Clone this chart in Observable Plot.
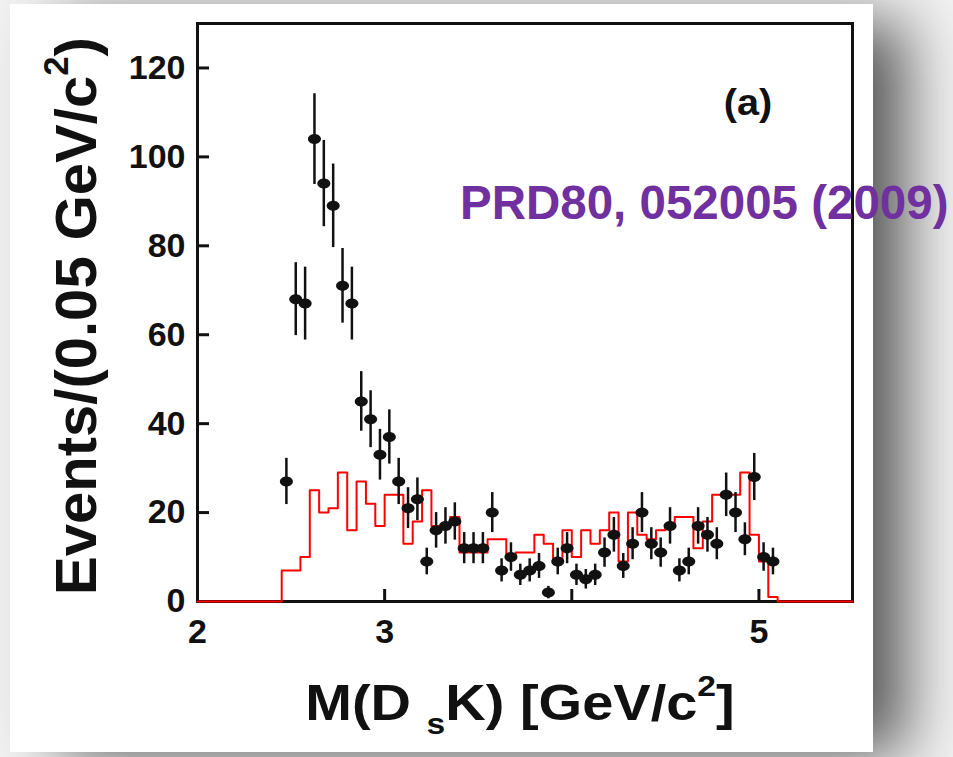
<!DOCTYPE html>
<html>
<head>
<meta charset="utf-8">
<script src="https://cdn.jsdelivr.net/npm/d3@7"></script>
<script src="https://cdn.jsdelivr.net/npm/@observablehq/plot@0.6"></script>
<style>
html, body { margin: 0; padding: 0; }
body { width: 953px; height: 757px; background: #f2f2f2; position: relative; overflow: hidden; font-family: "Liberation Sans", Arial, sans-serif; }
#card { position: absolute; left: 10px; top: 4px; width: 863px; height: 748px; background: #fff; box-shadow: 40px 10px 60px -8px rgba(0,0,0,0.65); }
#chart { position: absolute; left: 0; top: 0; }
.lbl { position: absolute; font-weight: bold; color: #111; white-space: nowrap; line-height: 1; }
#ylab { font-family: "Liberation Sans Narrow", "Liberation Sans", Arial, sans-serif; font-size: 58px; left: 72px; top: 316px; transform: translate(-50%, -50%) rotate(-90deg); }
#xlab { font-size: 50px; left: 520px; top: 705px; transform: translate(-50%, -50%) scaleX(1.12); }
#tag { font-size: 36px; left: 748px; top: 103px; transform: translate(-50%, -50%) scaleX(1.1); }
#ref { font-size: 47.5px; color: #7030a0; left: 460px; top: 203px; transform: translateY(-50%); }
.sup { font-size: 0.6em; vertical-align: 0.8em; }
.sub { font-size: 0.6em; vertical-align: -0.45em; }
</style>
</head>
<body>
<div id="card"></div>
<div id="chart"></div>
<div class="lbl" id="ylab">Events/(0.05 GeV/c<span class="sup">2</span>)</div>
<div class="lbl" id="xlab">M(D <span class="sub">s</span>K) [GeV/c<span class="sup">2</span>]</div>
<div class="lbl" id="tag">(a)</div>
<div class="lbl" id="ref">PRD80, 052005 (2009)</div>
<script>
// Data points: M(DsK) bin centres [GeV/c^2], events per 0.05 GeV/c^2, and their error bars
const dataMass = [2.475, 2.525, 2.575, 2.625, 2.675, 2.725, 2.775, 2.825, 2.875, 2.925,
  2.975, 3.025, 3.075, 3.125, 3.175, 3.225, 3.275, 3.325, 3.375, 3.425,
  3.475, 3.525, 3.575, 3.625, 3.675, 3.725, 3.775, 3.825, 3.875, 3.925,
  3.975, 4.025, 4.075, 4.125, 4.175, 4.225, 4.275, 4.325, 4.375, 4.425,
  4.475, 4.525, 4.575, 4.625, 4.675, 4.725, 4.775, 4.825, 4.875, 4.925,
  4.975, 5.025, 5.075];
const dataCounts = [27, 68, 67, 104, 94, 89, 71, 67, 45, 41,
  33, 37, 27, 21, 23, 9, 16, 17, 18, 12,
  12, 12, 20, 7, 10, 6, 7, 8, 2, 9,
  12, 6, 5, 6, 11, 15, 8, 13, 20, 13,
  11, 17, 7, 9, 17, 15, 13, 24, 20, 14,
  28, 10, 9];
const dataErrors = [5.2, 8.2, 8.2, 10.2, 9.7, 9.4, 8.4, 8.2, 6.7, 6.4,
  5.7, 6.1, 5.2, 4.6, 4.8, 3.0, 4.0, 4.1, 4.2, 3.5,
  3.5, 3.5, 4.5, 2.6, 3.2, 2.4, 2.6, 2.8, 1.4, 3.0,
  3.5, 2.4, 2.2, 2.4, 3.3, 3.9, 2.8, 3.6, 4.5, 3.6,
  3.3, 4.1, 2.6, 3.0, 4.1, 3.9, 3.6, 4.9, 4.5, 3.7,
  5.3, 3.2, 3.0];

// Red histogram: left bin edges and contents (step-after)
const histEdges = [2.00, 2.45, 2.50, 2.55, 2.60, 2.65, 2.70, 2.75, 2.80, 2.85, 2.90,
  2.95, 3.00, 3.05, 3.10, 3.15, 3.20, 3.25, 3.30, 3.35, 3.40,
  3.45, 3.50, 3.55, 3.60, 3.65, 3.70, 3.75, 3.80, 3.85, 3.90,
  3.95, 4.00, 4.05, 4.10, 4.15, 4.20, 4.25, 4.30, 4.35, 4.40,
  4.45, 4.50, 4.55, 4.60, 4.65, 4.70, 4.75, 4.80, 4.85, 4.90,
  4.95, 5.00, 5.05, 5.10, 5.50];
const histCounts = [0, 7, 7, 10, 25, 20, 21, 29, 16, 27, 22,
  17, 24, 24, 13, 18, 25, 17, 17, 19, 11,
  11, 11, 14, 14, 10, 11, 11, 15, 13, 9,
  16, 10, 16, 13, 16, 20, 9, 20, 15, 14,
  16, 17, 19, 19, 12, 18, 24, 24, 24, 29,
  15, 9, 1, 0, 0];

// Axis ticks
const yTickValues = [0, 20, 40, 60, 80, 100, 120];
const xTickValues = [3, 4, 5];
const xTickLabels = [2, 3, 5];

const points = dataMass.map((m, i) => ({m, n: dataCounts[i], e: dataErrors[i]}));
const hist = histEdges.map((m, i) => ({m, n: histCounts[i]}));

const ellipse = {
  draw(ctx) {
    const rx = 6.5, ry = 5, k = 0.5523;
    ctx.moveTo(rx, 0);
    ctx.bezierCurveTo(rx, ry * k, rx * k, ry, 0, ry);
    ctx.bezierCurveTo(-rx * k, ry, -rx, ry * k, -rx, 0);
    ctx.bezierCurveTo(-rx, -ry * k, -rx * k, -ry, 0, -ry);
    ctx.bezierCurveTo(rx * k, -ry, rx, -ry * k, rx, 0);
    ctx.closePath();
  }
};

const chart = Plot.plot({
  width: 953,
  height: 757,
  marginLeft: 197,
  marginRight: 101,
  marginTop: 23,
  marginBottom: 156,
  style: {background: "transparent", fontFamily: "'Liberation Sans', Arial, sans-serif", color: "#111"},
  x: {domain: [2, 5.5]},
  y: {domain: [0, 130]},
  marks: [
    Plot.axisY({ticks: yTickValues, tickFormat: d => String(d), tickSize: 0, tickPadding: 12, label: null, fontSize: 34, fontWeight: "bold", fill: "#111"}),
    Plot.axisX({ticks: xTickLabels, tickFormat: d => String(d), tickSize: 0, tickPadding: 17, label: null, fontSize: 34, fontWeight: "bold", fill: "#111"}),
    Plot.tickY(yTickValues, {y: d => d, stroke: "#111", strokeWidth: 3, insetRight: 643}),
    Plot.tickX(xTickValues, {x: d => d, stroke: "#111", strokeWidth: 3, insetTop: 566}),
    Plot.frame({stroke: "#111", strokeWidth: 3}),
    Plot.line(hist, {x: "m", y: "n", curve: "step-after", stroke: "#ff0000", strokeWidth: 2}),
    Plot.ruleX(points, {x: "m", y1: d => d.n - d.e, y2: d => d.n + d.e, stroke: "#111", strokeWidth: 2.5}),
    Plot.dot(points, {x: "m", y: "n", symbol: ellipse, fill: "#111", stroke: "none"})
  ]
});
document.getElementById("chart").appendChild(chart);
</script>
</body>
</html>
